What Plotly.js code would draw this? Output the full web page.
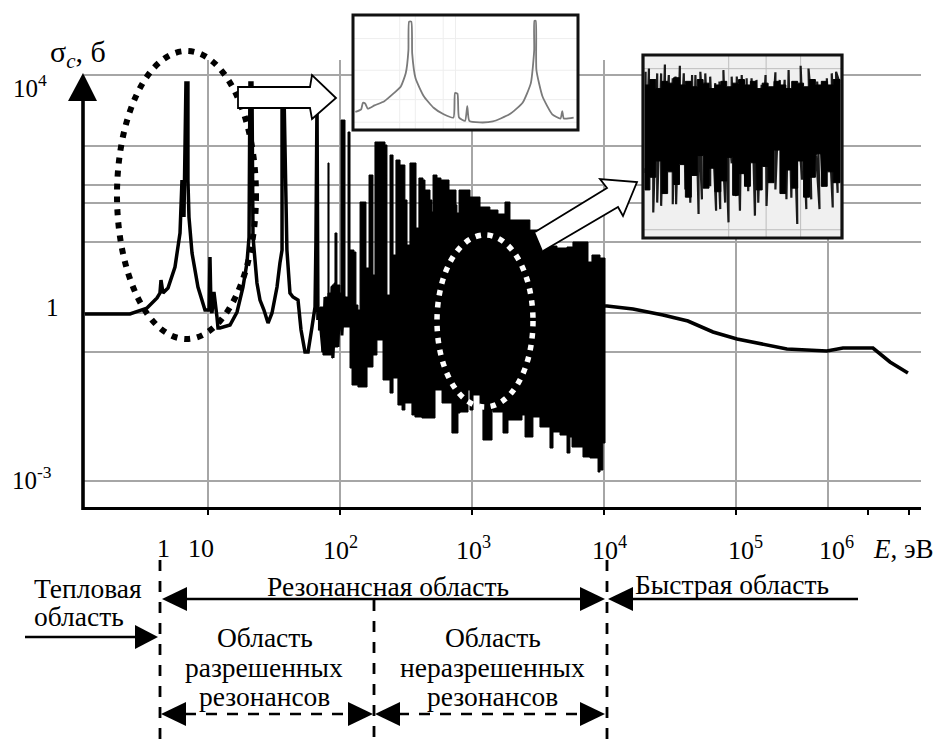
<!DOCTYPE html>
<html><head><meta charset="utf-8">
<script src="https://cdn.plot.ly/plotly-3.0.1.min.js"></script>
<style>html,body{margin:0;padding:0;background:#fff}#c{width:935px;height:744px}</style>
</head><body><div id="c"></div>
<script>
// lg E (eV) and lg sigma (barn)
const lowLgE=[.068,.409,.538,.614,.636,.644,.659,.697,.75,.788,.803,.818,.833,.848,.848,.856,.879,.924,.977,1.008,1.015,1.023,1.03,1.045,1.068,1.076,1.091,1.167,1.22,1.265,1.295,1.311,1.318,1.333,1.341,1.371,1.394,1.424,1.455,1.485,1.523,1.545,1.561,1.561,1.576,1.598,1.621,1.644,1.682,1.705,1.735,1.758,1.788,1.811,1.818,1.826,1.833];
const lowLgS=[-.018,-.018,.089,.268,.357,.589,.357,.446,.821,1.429,2.375,1.714,4.107,4.107,2.375,1.714,1.071,.464,.054,.054,1.0,.054,.0,.375,-.071,-.268,-.268,-.214,.018,.464,.893,1.357,4.107,4.107,1.357,.536,.232,.054,-.179,0,.464,.893,1.125,3.893,3.893,1.125,.357,.286,.232,-.304,-.696,-.696,-.25,.107,1.304,3.8,-.125];
const bandLgE=[1.84,1.871,1.886,1.9,1.917,1.925,1.939,1.955,1.947,1.97,1.985,2.0,2.015,2.03];
const bandLgS=[.1,-.696,.286,-.72,.357,-.75,.46,.5,-.804,.4,-.607,.357,-.4,.3];
const topLgE=[1.833,1.848,1.886,1.909,1.909,1.917,1.939,1.955,1.962,1.977,2.0,2.008,2.03,2.038,2.053,2.061,2.076,2.076,2.106,2.121,2.136,2.152,2.189,2.197,2.212,2.22,2.25,2.25,2.265,2.265,2.295,2.341,2.356,2.371,2.379,2.394,2.402,2.417,2.424,2.455,2.492,2.508,2.523,2.53,2.568,2.576,2.591,2.598,2.629,2.644,2.682,2.697,2.705,2.735,2.765,2.803,2.826,2.879,2.886,2.902,2.955,2.985,3.061,3.136,3.197,3.25,3.25,3.28,3.288,3.439,3.515,3.583,3.644,3.72,3.765,3.818,3.879,3.909,3.97,4.008];
const topLgS=[-.125,.107,.286,.357,2.679,.357,.464,.536,1.429,.5,.357,3.446,3.446,.286,.286,3.232,3.232,1.125,1.089,.143,.054,1.982,1.982,.804,.804,2.464,2.464,.679,.679,3.054,3.054,3.0,.321,.321,2.821,2.821,1.036,1.036,2.732,2.643,2.018,1.214,1.214,2.679,2.679,1.518,1.518,2.411,2.375,2.196,2.018,1.804,2.464,2.411,2.375,2.375,2.196,1.929,1.786,2.196,2.196,2.071,1.893,1.839,1.768,1.768,1.982,1.982,1.661,1.482,1.304,1.196,1.161,1.179,1.268,1.268,.911,1.036,.982,.821];
const botLgE=[1.833,1.864,1.871,1.939,1.947,1.985,2.023,2.076,2.091,2.136,2.205,2.25,2.28,2.288,2.326,2.326,2.379,2.402,2.439,2.47,2.492,2.545,2.568,2.621,2.72,2.773,2.811,2.848,2.871,2.894,2.909,2.97,2.985,3.008,3.061,3.083,3.114,3.152,3.159,3.235,3.273,3.326,3.379,3.402,3.462,3.515,3.591,3.614,3.667,3.72,3.742,3.758,3.841,3.894,3.955,3.97,3.992,4.008];
const botLgS=[-.304,-.304,-.696,-.75,-.804,-.607,-.25,-.25,-.982,-1.286,-1.321,-.964,-.75,-.482,-.482,-1.143,-1.196,-1.429,-1.161,-1.643,-1.732,-1.607,-1.821,-1.857,-1.875,-1.375,-1.607,-1.607,-2.143,-2.143,-1.786,-1.768,-1.375,-1.732,-1.464,-1.679,-2.268,-2.268,-1.732,-1.768,-2.143,-1.911,-1.911,-1.821,-2.214,-1.857,-2.036,-2.411,-2.125,-2.179,-2.5,-2.214,-2.393,-2.571,-2.589,-2.839,-2.804,-2.321];
const fastLgE=[4.008,4.023,4.22,4.447,4.636,4.826,5.008,5.235,5.386,5.689,5.811,6.038,6.167,6.303];
const fastLgS=[.125,.125,.071,-.036,-.143,-.339,-.464,-.571,-.643,-.679,-.625,-.625,-.875,-1.071];
const gridLgE=[1,2,3,4,5,5.697];
const gridLgS=[4.25,2.982,2.286,1.964,1.268,0,-.696,-3];
const tickLgE=[1,2,3,4,5,6,6.31];
// inset 1: resolved resonances, percent of frame
const in1X=[.6,3.2,4,5,6.2,9.2,13.6,18,21,23.2,24.4,24.7,25.7,26.1,27.6,31.3,35.7,40.2,44.6,45.3,46.4,47.1,49.8,50.8,51.7,56.4,62.3,69.7,75.6,79.3,80.8,80.9,81.5,81.8,84.5,88.9,92.6,93.4,94.1,98.5];
const in1Y=[15.1,17.4,23.2,22.6,18,20.9,24.6,31.9,37.7,49.3,69.6,95.1,95.1,66.7,44.9,29,18.8,13,10.1,31.9,31.3,10.1,7.2,20.3,7.2,5.8,6.7,13,23.2,40.6,69.6,95.7,95.7,52.2,29,13,9.3,15.9,9.3,10.1];
const in1GridX=[20.5,27.5,40,45.5];
const in1GridY=[6,26,52,80];
// inset 2: unresolved resonances, percent of frame
const in2TopX=[.8,2.5,4.7,6.7,8.7,10.6,12.6,14.6,16,18.2,20.2,22.2,24.4,26.1,27.7,28.6,31.1,33.6,36.1,38.3,40.3,42.9,44.5,47.1,49.6,52.1,54.6,57.1,59.7,61.7,63.9,66.7,68.9,71.4,73.4,75.6,77.3,79.5,81.5,83.5,85.7,87.9,90.4,92.8,95.3,97.5,98.8];
const in2TopY=[91.3,93.1,72.3,90.4,90.4,95.3,89.5,87.7,88.6,94.6,90.4,84.1,89.5,89.5,66.9,91.3,90.4,88.6,85,85.9,92.2,63.3,88.6,88.6,89.5,87.7,87.7,86.8,84.1,89.5,70.5,91,86.8,86.8,92.2,85.9,78.7,94.6,80.5,93.1,75,85.9,85,87.7,90.4,91.3,86.8];
const in2BotX=[.8,2.5,4.7,6.7,8.7,10.6,12.6,14.6,16.3,18.2,21,23.5,25.2,27.7,29.4,31.1,33.6,36.6,38.7,41.2,42.9,44.5,46.7,48.7,51.3,52.9,56.3,58,60,62.2,64.4,66.7,69.2,72.3,74.8,77.8,80.2,82.4,84.9,87.4,89.1,90.8,93.3,95.8,98.3];
const in2BotY=[35.3,44.3,13.6,19,17.2,53.3,38.9,18.1,18.1,46.1,26.2,19,36.2,12.7,20.8,42.5,28,14.5,15.4,19,8.1,40.7,22.6,14.5,33.5,25.3,11.8,19,53.3,17.2,47.9,26.2,48.8,20.8,21.7,7.2,31.6,15.4,20.8,45.2,15.4,28,49.7,16.3,24.4];
const in2CoreX=[.5,3,6,9,12,15,18,21,24,27,30,33,36,39,42,45,48,51,54,57,60,63,66,69,72,75,78,81,84,87,90,93,96,99.5];
const in2CoreTop=[84,87,82,86,85,88,84,86,83,87,85,82,84,86,83,85,87,84,86,82,85,83,86,84,82,86,85,83,87,84,86,84,87,85];
const in2CoreBot=[38,26,33,42,24,36,29,40,22,34,45,27,38,25,31,44,23,35,28,41,26,39,30,48,24,37,27,42,22,33,46,28,36,30];

const W=935,H=744;
const px=x=>x/W, py=y=>1-y/H;
const pow=a=>a.map(v=>Math.pow(10,v));
const FONT='"Liberation Serif","Times New Roman",serif';

const rangeX=[.0606,6.402], rangeY=[-3.464,4.518];
const polyX=topLgE.concat(botLgE.slice().reverse());
const polyY=topLgS.concat(botLgS.slice().reverse());
let zx=[],zy=[];
in2TopX.forEach((x,i)=>{zx.push(x);zy.push(in2TopY[i]); if(i<in2BotX.length){zx.push(in2BotX[i]);zy.push(in2BotY[i]);}});
const vLines=a=>({x:a.flatMap(p=>[p,p,null]),y:a.flatMap(()=>[0,100,null])});
const hLines=a=>({x:a.flatMap(()=>[0,100,null]),y:a.flatMap(p=>[p,p,null])});
const g1v=vLines(in1GridX),g1h=hLines(in1GridY);

const traces=[
 {x:pow(polyX),y:pow(polyY),mode:'lines',fill:'toself',fillcolor:'#000',line:{color:'#000',width:1,shape:'hv',simplify:false},xaxis:'x',yaxis:'y'},
 {x:pow(bandLgE),y:pow(bandLgS),mode:'lines',line:{color:'#000',width:3,simplify:false},xaxis:'x',yaxis:'y'},
 {x:pow(lowLgE),y:pow(lowLgS),mode:'lines',line:{color:'#000',width:3.5,simplify:false},xaxis:'x',yaxis:'y'},
 {x:pow(fastLgE),y:pow(fastLgS),mode:'lines',line:{color:'#000',width:3.6},xaxis:'x2',yaxis:'y'},
 {x:[0,100,100,0,0],y:[0,0,100,100,0],mode:'lines',fill:'toself',fillcolor:'#fff',line:{width:0},xaxis:'x3',yaxis:'y3'},
 {x:g1v.x,y:g1v.y,mode:'lines',line:{color:'#eeeeee',width:1},xaxis:'x3',yaxis:'y3'},
 {x:g1h.x,y:g1h.y,mode:'lines',line:{color:'#eeeeee',width:1},xaxis:'x3',yaxis:'y3'},
 {x:in1X,y:in1Y,mode:'lines',line:{color:'#7a7a7a',width:1.8,shape:'spline',smoothing:.5},xaxis:'x3',yaxis:'y3'},
 {x:[0,100,100,0,0],y:[0,0,100,100,0],mode:'lines',fill:'toself',fillcolor:'#f0f0f0',line:{width:0},xaxis:'x4',yaxis:'y4'},
 {x:[43,43,null,62,62,null,79.5,79.5,null,0,100,null,0,100],y:[0,100,null,0,100,null,0,100,null,4,4,null,93,93],mode:'lines',line:{color:'#bdbdbd',width:1},xaxis:'x4',yaxis:'y4'},
 {x:zx,y:zy,mode:'lines',line:{color:'#1a1a1a',width:2.2,simplify:false},xaxis:'x4',yaxis:'y4'},
 {x:in2CoreX.concat(in2CoreX.slice().reverse()),y:in2CoreTop.concat(in2CoreBot.slice().reverse()),mode:'lines',fill:'toself',fillcolor:'#000',line:{color:'#000',width:1,shape:'hv',simplify:false},xaxis:'x4',yaxis:'y4'}
];

const frame=(x0,y0,x1,y1)=>({xd:[px(x0),px(x1)], yd:[py(y1),py(y0)]});
const f1=frame(354,16,577,129), f2=frame(644,56,841,237);

const hidden={visible:false,range:[0,100],fixedrange:true};
const layout={
 width:W,height:H,margin:{l:0,r:0,t:0,b:0},paper_bgcolor:'#fff',plot_bgcolor:'rgba(0,0,0,0)',showlegend:false,hovermode:false,
 xaxis:{type:'log',range:rangeX,domain:[px(84),px(921)],anchor:'y',tickvals:pow(gridLgE),showticklabels:false,ticks:'',showgrid:true,gridcolor:'#a6a6a6',gridwidth:1.5,showline:false,zeroline:false,fixedrange:true},
 xaxis2:{type:'log',range:rangeX,domain:[px(84),px(921)],anchor:'y',overlaying:'x',tickvals:pow(tickLgE),showticklabels:false,ticks:'outside',ticklen:5,tickwidth:2.4,tickcolor:'#000',showgrid:false,showline:true,linecolor:'#000',linewidth:3,zeroline:false,fixedrange:true},
 yaxis:{type:'log',range:rangeY,domain:[py(507),py(60)],anchor:'x',tickvals:pow(gridLgS),showticklabels:false,ticks:'',showgrid:true,gridcolor:'#a6a6a6',gridwidth:1.8,showline:false,zeroline:false,fixedrange:true},
 xaxis3:{...hidden,domain:f1.xd,anchor:'y3'}, yaxis3:{...hidden,domain:f1.yd,anchor:'x3'},
 xaxis4:{...hidden,domain:f2.xd,anchor:'y4'}, yaxis4:{...hidden,domain:f2.yd,anchor:'x4'},
 shapes:[],annotations:[]
};
const S=layout.shapes, A=layout.annotations;
const P=(d,o)=>S.push(Object.assign({type:'path',xref:'paper',yref:'paper',layer:'above',path:d,line:{width:0},fillcolor:'#000'},o||{}));
const open=a=>'M'+a.map(p=>px(p[0])+','+py(p[1])).join(' L');
const pts=a=>open(a)+' Z';
const L=(x0,y0,x1,y1,w,dash)=>S.push({type:'line',xref:'paper',yref:'paper',layer:'above',x0:px(x0),y0:py(y0),x1:px(x1),y1:py(y1),line:{color:'#000',width:w,dash:dash||'solid'}});
const T=(s,x,y,size,anchor)=>A.push({text:s,xref:'paper',yref:'paper',x:px(x),y:py(y),xanchor:anchor||'center',yanchor:'middle',showarrow:false,font:{family:FONT,size:size,color:'#000'}});

// y axis with arrow head
L(83,510,83,98,3.6);
P(pts([[83,73],[68,101],[97,101]]));
// inset frames
S.push({type:'rect',xref:'paper',yref:'paper',layer:'above',x0:px(353),y0:py(15),x1:px(578),y1:py(130),line:{color:'#111',width:3}});
S.push({type:'rect',xref:'paper',yref:'paper',layer:'above',x0:px(643),y0:py(55),x1:px(842),y1:py(238),line:{color:'#111',width:3.2}});
// ellipses
S.push({type:'circle',xref:'paper',yref:'paper',layer:'above',x0:px(117),x1:px(256),y0:py(339),y1:py(51),line:{color:'#000',width:6,dash:'6px,7px'}});
S.push({type:'circle',xref:'paper',yref:'paper',layer:'above',x0:px(437),x1:px(533),y0:py(407),y1:py(235),line:{color:'#fff',width:5.5,dash:'5.5px,6.5px'}});
// white arrows
P(pts([[238,87],[310,87],[312,75],[336,98],[312,119],[310,108],[238,108]]),{fillcolor:'#fff',line:{color:'#000',width:1.8}});
const arrow2=[[535,232],[607,188],[600,179],[637,182],[623,216],[618,207],[543,251]];
P(pts(arrow2),{fillcolor:'#fff',line:{width:0}});
P(open(arrow2),{fillcolor:'rgba(0,0,0,0)',line:{color:'#000',width:1.8}});
// region markers
const DASH='11px,10px';
L(160,560,160,744,2.8,DASH);L(374,600,374,744,2.8,DASH);L(607,560,607,744,2.8,DASH);
L(185,599,582,599,2.5);L(631,599,858,599,2.5);L(25,637,137,637,2.5);
L(185,714,350,714,2.5,DASH);L(398,714,582,714,2.5,DASH);
P(pts([[162,599],[187,587],[187,611]]));P(pts([[605,599],[580,587],[580,611]]));
P(pts([[608,599],[633,587],[633,611]]));P(pts([[158,637],[135,625],[135,649]]));
P(pts([[161,714],[186,702],[186,726]]));P(pts([[373,714],[348,702],[348,726]]));
P(pts([[375,714],[400,702],[400,726]]));P(pts([[605,714],[580,702],[580,726]]));

// text
T('σ<sub><i>c</i></sub>, б',78,54,30);
T('10<sup>4</sup>',30,86,25);T('1',52,307,25);T('10<sup>-3</sup>',32,478,25);
T('1',163,548,26);T('10',201,548,26);T('10<sup>2</sup>',340,548,26);T('10<sup>3</sup>',473,548,26);
T('10<sup>4</sup>',609,548,26);T('10<sup>5</sup>',745,548,26);T('10<sup>6</sup>',836,548,26);T('<i>E</i>, эВ',903,549,27);
T('Тепловая',88,588,27.5);T('область',79,616,27.5);
T('Резонансная область',388,586,27.5);T('Быстрая область',732,584,27.5);
T('Область',265,637,27.5);T('разрешенных',264,667,27.5);T('резонансов',264,696,27.5);
T('Область',493,637,27.5);T('неразрешенных',493,667,27.5);T('резонансов',493,696,27.5);

Plotly.newPlot('c',traces,layout,{displayModeBar:false});
</script></body></html>
